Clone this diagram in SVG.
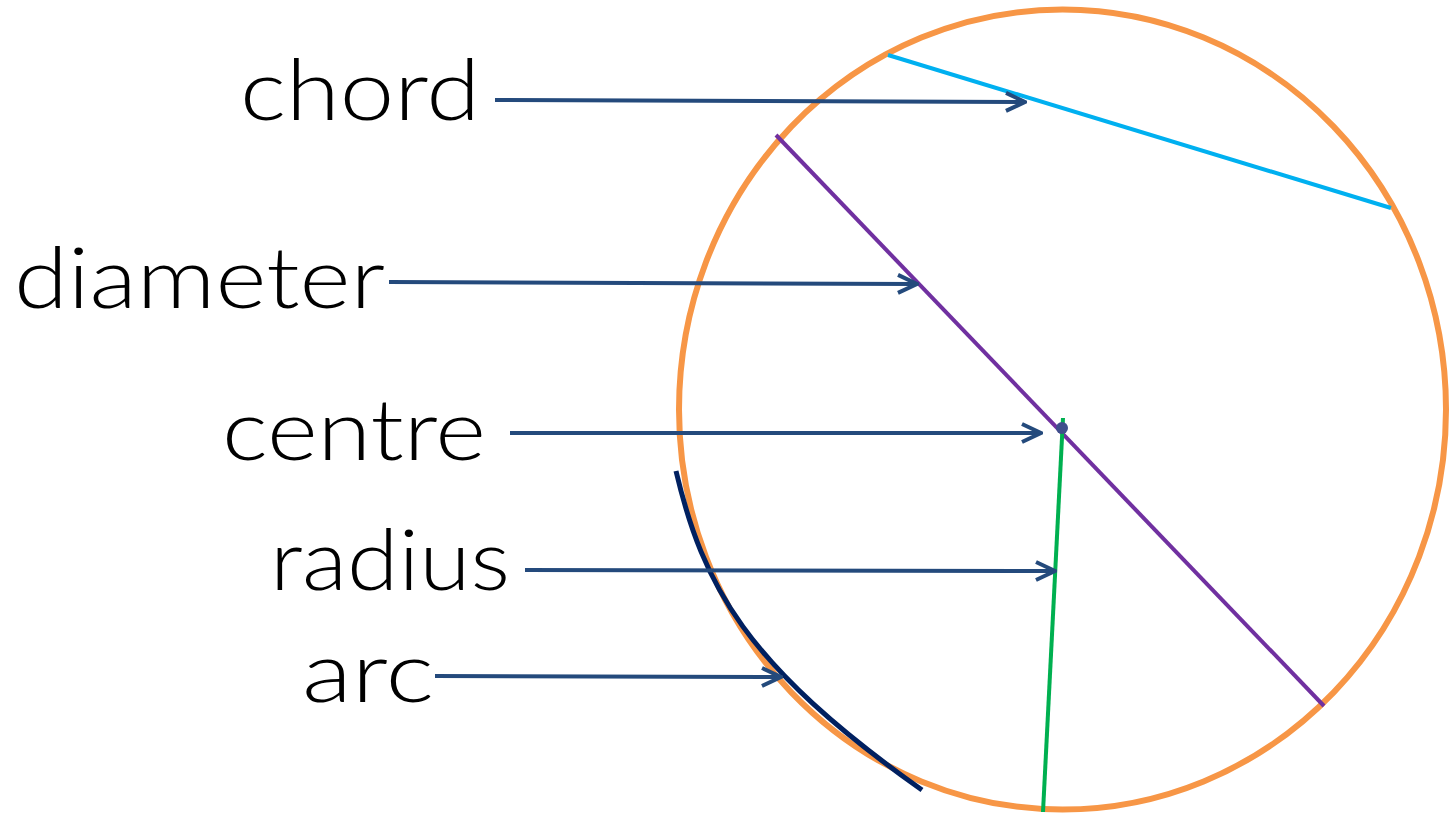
<svg xmlns="http://www.w3.org/2000/svg" width="1449" height="815" viewBox="0 0 1449 815">
<style>
.lbl{font-family:"Lato","DejaVu Sans","Liberation Sans",sans-serif;font-size:84px;font-weight:300;fill:#000;text-anchor:end}
.ptr{stroke:#244A7C;stroke-width:4;fill:none}
</style>
<defs>
<marker id="open" viewBox="0 0 24 24" refX="22" refY="12" markerWidth="24" markerHeight="24" markerUnits="userSpaceOnUse" orient="auto">
<path d="M3,3 L22,12 L3,21" fill="none" stroke="#244A7C" stroke-width="4"/>
</marker>
</defs>
<rect width="1449" height="815" fill="#fff"/>
<g id="circle">
<ellipse cx="1062.5" cy="409.5" rx="383.5" ry="400" fill="none" stroke="#F79646" stroke-width="6"/>
</g>
<g id="chord-line"><line x1="888" y1="55" x2="1391" y2="208" stroke="#00B0F0" stroke-width="4"/></g>
<g id="diameter-line"><line x1="776" y1="135" x2="1324" y2="706" stroke="#7030A0" stroke-width="4"/></g>
<g id="radius-line"><line x1="1063" y1="418" x2="1043" y2="812" stroke="#00B050" stroke-width="4"/></g>
<g id="centre-dot"><circle cx="1062" cy="428" r="6" fill="#3F4E8C"/></g>
<g id="arc-line"><path d="M676,471 C703,585 745,665 922,790" fill="none" stroke="#002060" stroke-width="5"/></g>
<g id="labels">
<text class="lbl" x="480" y="120" textLength="240" lengthAdjust="spacingAndGlyphs">chord</text>
<text class="lbl" x="385" y="308" textLength="371" lengthAdjust="spacingAndGlyphs">diameter</text>
<text class="lbl" x="486" y="460" textLength="264" lengthAdjust="spacingAndGlyphs">centre</text>
<text class="lbl" x="510" y="590" textLength="240" lengthAdjust="spacingAndGlyphs">radius</text>
<text class="lbl" x="434" y="702" textLength="132" lengthAdjust="spacingAndGlyphs">arc</text>
</g>
<g id="connectors">
<line class="ptr" x1="495" y1="100" x2="1025" y2="102" marker-end="url(#open)"/>
<line class="ptr" x1="389" y1="282" x2="917" y2="284" marker-end="url(#open)"/>
<line class="ptr" x1="510" y1="433" x2="1041" y2="433" marker-end="url(#open)"/>
<line class="ptr" x1="525" y1="570" x2="1055" y2="571" marker-end="url(#open)"/>
<line class="ptr" x1="435" y1="676" x2="781" y2="677" marker-end="url(#open)"/>
</g>
</svg>
